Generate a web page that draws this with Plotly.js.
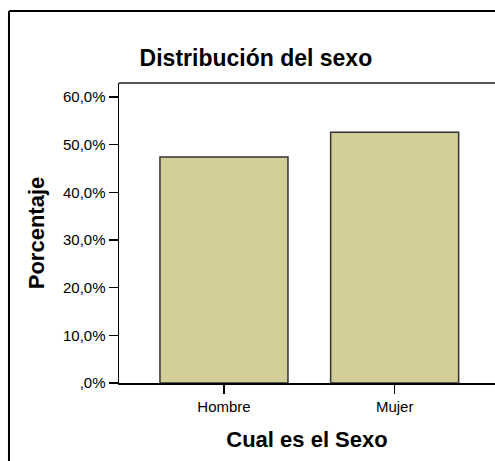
<!DOCTYPE html>
<html>
<head>
<meta charset="utf-8">
<script src="https://cdn.plot.ly/plotly-3.0.1.min.js"></script>
<style>html,body{margin:0;padding:0;background:#fff;overflow:hidden;}#chart{width:495px;height:461px;}</style>
</head>
<body>
<div id="chart"></div>
<script>
const categories = ["Hombre", "Mujer"];
const percentages = [47.4, 52.6];
const tickValues = [0, 10, 20, 30, 40, 50, 60];
const tickLabels = [",0%", "10,0%", "20,0%", "30,0%", "40,0%", "50,0%", "60,0%"];

const FONT = "Liberation Sans, Arial, sans-serif";

const trace = {
  type: "bar",
  x: categories,
  y: percentages,
  width: 0.75,
  marker: { color: "#D3CE97", line: { color: "#333333", width: 1.5 } },
  hoverinfo: "x+y"
};

const layout = {
  width: 495,
  height: 461,
  margin: { l: 119, r: 0, t: 83, b: 78 },
  paper_bgcolor: "#ffffff",
  plot_bgcolor: "#ffffff",
  showlegend: false,
  font: { family: FONT, color: "#000000" },
  title: {
    text: "<b>Distribución del sexo</b>",
    font: { family: FONT, size: 23, color: "#000000" },
    xref: "container", yref: "container",
    x: 0.517, xanchor: "center",
    y: 0.875, yanchor: "middle"
  },
  xaxis: {
    range: [-0.615, 1.588],
    showgrid: false, zeroline: false,
    showline: true, linecolor: "#000000", linewidth: 1.5,
    ticks: "outside", ticklen: 9, tickwidth: 1.5, tickcolor: "#000000",
    tickfont: { family: FONT, size: 15, color: "#000000" },
    title: { text: "<b>Cual es el Sexo</b>", font: { family: FONT, size: 22, color: "#000000" }, standoff: 18 }
  },
  yaxis: {
    range: [0, 62.94],
    tickvals: tickValues,
    ticktext: tickLabels,
    showgrid: false, zeroline: false,
    showline: true, linecolor: "#000000", linewidth: 1.5,
    ticks: "outside", ticklen: 9, tickwidth: 1.5, tickcolor: "#000000",
    tickfont: { family: FONT, size: 15, color: "#000000" },
    title: { text: "<b>Porcentaje</b>", font: { family: FONT, size: 22, color: "#000000" }, standoff: 12 }
  },
  shapes: [
    { type: "line", xref: "paper", yref: "paper", x0: -0.2926, x1: -0.2926, y0: -0.3, y1: 1.24,
      line: { color: "#000000", width: 2 }, layer: "above" },
    { type: "line", xref: "paper", yref: "paper", x0: -0.2926, x1: 1.0, y0: 1.24, y1: 1.24,
      line: { color: "#000000", width: 2 }, layer: "above" },
    { type: "line", xref: "paper", yref: "paper", x0: 0, x1: 1.0, y0: 1, y1: 1,
      line: { color: "#555555", width: 2 }, layer: "above" }
  ]
};

Plotly.newPlot("chart", [trace], layout, { displayModeBar: false, staticPlot: true });
</script>
</body>
</html>
